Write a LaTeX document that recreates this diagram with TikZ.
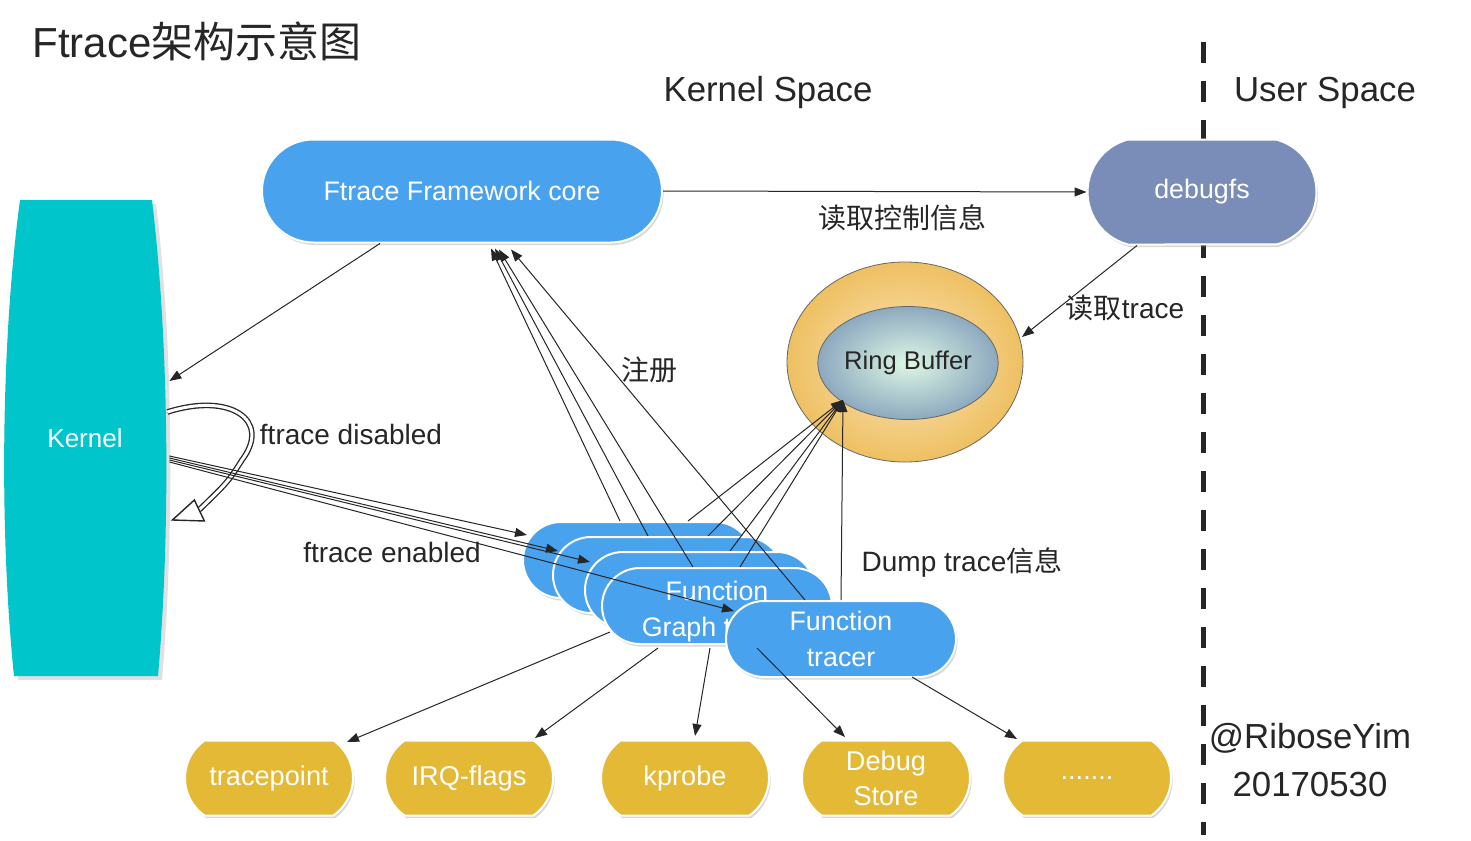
\documentclass[tikz,border=0pt]{standalone}
\usepackage{fontspec}
\setmainfont{Liberation Sans}
\newfontfamily\cjk{Noto Sans CJK SC}
\usetikzlibrary{shapes.misc,shapes.geometric,arrows.meta,calc,shadows}
\definecolor{pillblue}{HTML}{49A2EE}
\definecolor{dfs}{HTML}{7A8DB8}
\definecolor{kern}{HTML}{00C5CB}
\definecolor{gold}{HTML}{E3B935}
\definecolor{ringin}{HTML}{FBE4BC}
\definecolor{ringout}{HTML}{EEC062}
\definecolor{bufin}{HTML}{DDF7E4}
\definecolor{bufout}{HTML}{8DA9BF}
\definecolor{ink}{HTML}{262626}
\begin{document}
\begin{tikzpicture}[x=0.5pt,y=-0.5pt,
  shade/.style={drop shadow={shadow xshift=0.8pt,shadow yshift=-1.3pt,opacity=0.3}},
  pill/.style={rounded rectangle, fill=pillblue, draw=white, line width=1pt, text=white,
    font=\fontsize{13.4}{18}\selectfont, align=center, inner sep=0pt, shade},
  stack/.style={minimum width=115pt, minimum height=38pt},
  gbox/.style={rounded rectangle, rounded rectangle arc length=110, fill=gold, draw=white,
    line width=1pt, text=white, font=\fontsize{13.6}{17.5}\selectfont, align=center,
    minimum width=84pt, minimum height=37.5pt, inner sep=0pt, shade},
  conn/.style={draw=ink, line width=0.5pt, -{Triangle[length=6pt,width=4.5pt]}},
  lbl/.style={text=ink, font=\fontsize{14}{16}\selectfont, inner sep=0pt},
  big/.style={text=ink, font=\fontsize{17.4}{20}\selectfont, inner sep=0pt}
]
\useasboundingbox (0,0) rectangle (1471,840);
\fill[white] (0,0) rectangle (1471,840);

% title and headings
\node[anchor=west, text=ink, font=\fontsize{21}{24}\selectfont, inner sep=0pt] (title) at (32,41) {Ftrace{\cjk 架构示意图}};
\node[big] (ks) at (768,93) {Kernel Space};
\node[big] (us) at (1325,93) {User Space};
\node[big] (author) at (1310,738) {@RiboseYim};
\node[big] (date) at (1310,785) {20170530};

% user / kernel divider
\coordinate (dtop) at (1203,42);
\coordinate (dbot) at (1203,835);
\draw[line width=2.5pt, ink, dash pattern=on 10.5pt off 9pt] (dtop) -- (dbot);

% Kernel barrel
\fill[black, opacity=0.12] (24,204) -- (156,204) .. controls (174,350) and (174,540) .. (162,680) -- (18,680) .. controls (4,540) and (4,350) .. (24,204) -- cycle;
\fill[kern] (20,200) -- (152,200) .. controls (170,350) and (170,540) .. (158,676) -- (14,676) .. controls (0,540) and (0,350) .. (20,200) -- cycle;
\node[minimum width=82pt, minimum height=238pt, inner sep=0pt, text=white, font=\fontsize{13}{16}\selectfont] (kernel) at (85,438) {Kernel};

% main nodes
\node[pill, minimum width=200pt, minimum height=51.5pt] (core) at (462,191) {Ftrace Framework core};
\node[pill, fill=dfs, rounded rectangle arc length=150, minimum width=114.5pt, minimum height=52.5pt] (debugfs) at (1202,192) {debugfs};
\node[ellipse, minimum width=118pt, minimum height=100pt, draw=ink!70, line width=0.4pt, inner color=ringin, outer color=ringout] (ring) at (905,362) {};
\node[ellipse, minimum width=77pt, minimum height=56.5pt, draw=ink!70, line width=0.4pt, inner color=bufin, outer color=bufout, text=ink, font=\fontsize{12.8}{15}\selectfont, inner sep=0pt] (buf) at (908,363) {Ring Buffer};

% stacked tracers
\node[pill, stack] (p1) at (638,560) {};
\node[pill, stack] (p2) at (668,575) {};
\node[pill, stack] (p3) at (700,590) {};
\node[pill, stack] (p4) at (717,606) {\rule{0pt}{15pt}Function\\Graph tracer};
\node[pill, stack] (ft) at (841,639) {Function\\tracer};

% bottom tracers
\node[gbox] (tp) at (269,778) {tracepoint};
\node[gbox] (irq) at (469,778) {IRQ-flags};
\node[gbox] (kp) at (685,778) {kprobe};
\node[gbox] (ds) at (886,778) {Debug\\Store};
\node[gbox] (more) at (1087,778) {.......};

% connectors
\draw[conn] (core.east) -- (debugfs.west);
\draw[conn] ($(debugfs.south)+(-65,0)$) -- ($(ring.center)+(117,-25)$);
\draw[conn] ($(core.south)+(-82,0)$) -- ($(kernel.east)+(2,-57)$);

% ftrace disabled loop
\coordinate (ls) at ($(kernel.east)+(0,-26)$);
\coordinate (lt) at ($(kernel.east)+(5,82)$);
\draw[line width=2.8pt, ink] (ls) .. controls (230,392) and (272,420) .. (242,460) .. controls (228,482) .. (199,510);
\draw[line width=1.5pt, white] (ls) .. controls (230,392) and (272,420) .. (242,460) .. controls (228,482) .. (199,510);
\draw[ink, line width=0.7pt, fill=white, line join=miter] (lt) -- ++(32,1) -- ++(-10,-21) -- cycle;

% ftrace enabled
\draw[conn] ($(kernel.east)+(2,18)$) -- ($(p1.center)+(-111,-25)$);
\draw[conn] ($(kernel.east)+(2,20)$) -- ($(p2.center)+(-110,-24)$);
\draw[conn] ($(kernel.east)+(2,22)$) -- ($(p3.center)+(-110,-28)$);
\draw[conn] ($(kernel.east)+(2,24)$) -- ($(ft.center)+(-107,-28)$);

% register
\draw[conn] ($(p1.north)+(-18,0)$) -- ($(core.south)+(29,5)$);
\draw[conn] ($(p2.north)+(-20,0)$) -- ($(core.south)+(33,5)$);
\draw[conn] ($(p4.north)+(-24,0)$) -- ($(core.south)+(37,6)$);
\draw[conn] ($(ft.north)+(-36,0)$) -- ($(core.south)+(49,6)$);

% to ring buffer
\coordinate (rb) at ($(buf.center)+(-65,37)$);
\draw[conn] ($(p1.north)+(50,0)$) -- (rb);
\draw[conn] ($(p2.north)+(40,0)$) -- (rb);
\draw[conn] ($(p3.north)+(30,0)$) -- (rb);
\draw[conn] ($(p4.north)+(23,0)$) -- (rb);
\draw[conn] (ft.north) -- (rb);

% to bottom tracers
\draw[conn] ($(p4.center)+(-107,26)$) -- ($(tp.center)+(78,-36)$);
\draw[conn] ($(p4.center)+(-59,42)$) -- ($(irq.center)+(66,-40)$);
\draw[conn] ($(p4.center)+(-7,42)$) -- ($(kp.center)+(10,-42)$);
\draw[conn] ($(ft.center)+(-84,9)$) -- ($(ds.center)+(-41,-41)$);
\draw[conn] ($(ft.center)+(71,38)$) -- ($(more.center)+(-70,-39)$);

% labels
\node[lbl] (l1) at (902,218) {\cjk 读取控制信息};
\node[lbl] (l2) at (1125,308) {{\cjk 读取}trace};
\node[lbl] (l3) at (649,370) {\cjk 注册};
\node[lbl] (l4) at (351,434) {ftrace disabled};
\node[lbl] (l5) at (392,552) {ftrace enabled};
\node[lbl] (l6) at (962,562) {Dump trace{\cjk 信息}};
\end{tikzpicture}
\end{document}
